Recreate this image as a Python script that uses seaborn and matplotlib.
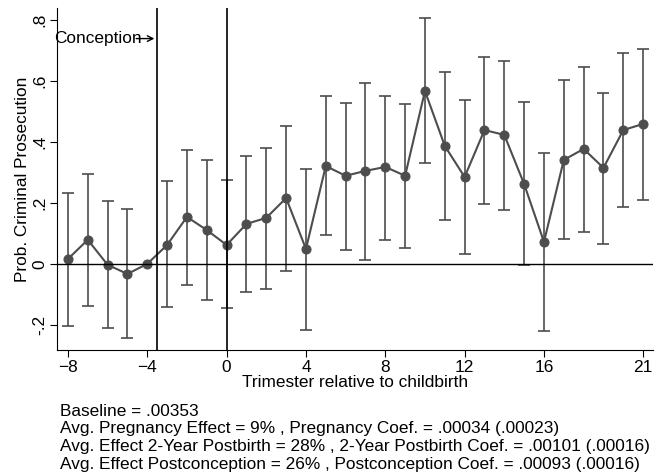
import matplotlib
matplotlib.use("Agg")
import matplotlib.pyplot as plt
import seaborn as sns
import pandas as pd

trimester = list(range(-8, 22))
coef = [0.016,0.079,-0.003,-0.033,0.0,0.062,0.154,0.111,0.062,0.131,0.151,0.216,0.049,0.321,0.289,0.305,0.318,0.289,0.567,0.387,0.285,0.439,0.423,0.262,0.072,0.341,0.377,0.315,0.439,0.459]
upper = [0.233,0.295,0.207,0.18,None,0.272,0.374,0.341,0.275,0.354,0.38,0.452,0.311,0.551,0.528,0.593,0.551,0.525,0.807,0.63,0.538,0.679,0.666,0.531,0.364,0.603,0.646,0.561,0.692,0.705]
lower = [-0.203,-0.138,-0.21,-0.243,None,-0.141,-0.069,-0.118,-0.144,-0.092,-0.082,-0.023,-0.216,0.095,0.046,0.013,0.079,0.052,0.331,0.144,0.033,0.197,0.177,-0.003,-0.22,0.082,0.105,0.066,0.187,0.21]
df = pd.DataFrame({"t": trimester, "b": coef, "hi": upper, "lo": lower})

sns.set_style("white")
plt.rcParams['font.family'] = ['Liberation Sans', 'DejaVu Sans']
plt.rcParams['text.color'] = 'black'
plt.rcParams['axes.labelcolor'] = 'black'
plt.rcParams['xtick.color'] = 'black'
plt.rcParams['ytick.color'] = 'black'
fs = 12.4
fig = plt.figure(figsize=(6.63, 4.76), dpi=100)
ax = fig.add_axes([0.086, 0.265, 0.899, 0.718])
c = "#4d4d4d"
ci = df.dropna()
ax.errorbar(ci["t"], ci["b"], yerr=[ci["b"]-ci["lo"], ci["hi"]-ci["b"]], fmt="none", ecolor=c, elinewidth=1.2, capsize=4, capthick=1.2)
sns.lineplot(data=df, x="t", y="b", ax=ax, color=c, lw=1.5, marker="o", markersize=6.5, markeredgecolor=c)
ax.axhline(0, color="black", lw=1)
ax.axvline(-3.5, color="black", lw=1.2)
ax.axvline(0, color="black", lw=1.2)
ax.annotate("", xy=(-3.5, 0.739), xytext=(-4.7, 0.739), arrowprops=dict(arrowstyle="->", color="black", lw=1))
ax.text(-8.7, 0.739, "Conception", fontsize=fs, va="center", ha="left")
ax.set_xlim(-8.55, 21.5)
ax.set_ylim(-0.282, 0.839)
ax.set_xticks([-8,-4,0,4,8,12,16,21])
ax.set_yticks([-0.2,0,0.2,0.4,0.6,0.8])
ax.set_yticklabels(["-.2","0",".2",".4",".6",".8"], rotation=90, va="center")
ax.tick_params(axis="both", labelsize=fs, length=5, direction="out", bottom=True, left=True, pad=2)
ax.set_xlabel("Trimester relative to childbirth", fontsize=fs, labelpad=0)
ax.set_ylabel("Prob. Criminal Prosecution", fontsize=fs, labelpad=2)
for s in ["top","right"]:
    ax.spines[s].set_visible(False)
for s in ["left","bottom"]:
    ax.spines[s].set_color("black")
notes = ["Baseline = .00353",
         "Avg. Pregnancy Effect = 9% , Pregnancy Coef. = .00034 (.00023)",
         "Avg. Effect 2-Year Postbirth = 28% , 2-Year Postbirth Coef. = .00101 (.00016)",
         "Avg. Effect Postconception = 26% , Postconception Coef. = .00093 (.00016)"]
for i, n in enumerate(notes):
    fig.text(60/663, 1-(411+i*18)/476, n, fontsize=fs, va="center", ha="left")
fig.savefig("out.png", dpi=100)
